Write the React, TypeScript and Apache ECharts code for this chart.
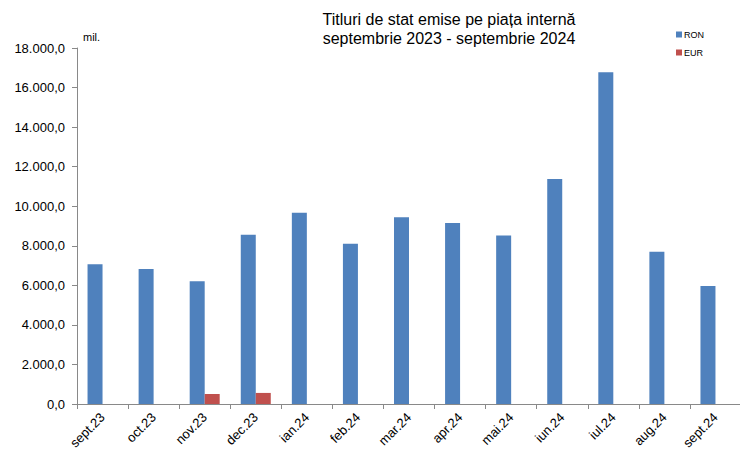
import React, { useEffect, useRef } from "react";
import * as echarts from "echarts";

const categories = ["sept.23", "oct.23", "nov.23", "dec.23", "ian.24", "feb.24", "mar.24", "apr.24", "mai.24", "iun.24", "iul.24", "aug.24", "sept.24"];
const ronValues = [7070, 6820, 6210, 8560, 9670, 8100, 9440, 9150, 8520, 11380, 16770, 7700, 5960];
const eurValues = [null, null, 505, 560, null, null, null, null, null, null, null, null, null];
const titleLines = ["Titluri de stat emise pe piața internă", "septembrie 2023 - septembrie 2024"];
const unitLabel = "mil.";

const FONT = "'Liberation Sans', Arial, sans-serif";

function fmt(v: number): string {
  const fixed = v.toFixed(1);
  const [intPart, dec] = fixed.split(".");
  const withDots = intPart.replace(/\B(?=(\d{3})+(?!\d))/g, ".");
  return withDots + "," + dec;
}

export default function App() {
  const ref = useRef<HTMLDivElement>(null);
  useEffect(() => {
    if (!ref.current) return;
    const chart = echarts.init(ref.current, null, { renderer: "svg" });
    chart.setOption({
      animation: false,
      backgroundColor: "#ffffff",
      textStyle: { fontFamily: FONT },
      title: {
        text: titleLines.join("\n"),
        left: 444,
        top: 5,
        textAlign: "center",
        textStyle: { fontFamily: FONT, fontSize: 16, fontWeight: "normal", color: "#000", lineHeight: 19 },
      },
      legend: {
        orient: "vertical",
        left: 671,
        top: 25,
        itemWidth: 6,
        itemHeight: 6,
        itemGap: 9,
        icon: "rect",
        textStyle: { fontFamily: FONT, fontSize: 9, color: "#000", padding: [0, 0, 0, -3] },
        data: ["RON", "EUR"],
      },
      graphic: [
        { type: "text", left: 83, top: 31, style: { text: unitLabel, fontFamily: FONT, fontSize: 11, fill: "#000" } },
      ],
      grid: { left: 77, top: 48, width: 664, height: 356, containLabel: false, outerBoundsMode: "none" },
      xAxis: {
        type: "category",
        data: categories,
        axisLine: { show: true, lineStyle: { color: "#898989", width: 1 } },
        axisTick: { show: true, length: 5, lineStyle: { color: "#898989" } },
        axisLabel: { rotate: 45, fontSize: 13, color: "#000", fontFamily: FONT, margin: 11, interval: 0 },
      },
      yAxis: {
        type: "value",
        min: 0,
        max: 18000,
        interval: 2000,
        axisLine: { show: true, lineStyle: { color: "#898989", width: 1 } },
        axisTick: { show: true, length: 5, lineStyle: { color: "#898989" } },
        splitLine: { show: false },
        axisLabel: { fontSize: 13, color: "#000", fontFamily: FONT, margin: 12, formatter: (v: number) => fmt(v) },
      },
      series: [
        { name: "RON", type: "bar", data: ronValues, barWidth: 15, barGap: "0%", itemStyle: { color: "#4F81BD" } },
        { name: "EUR", type: "bar", data: eurValues, barWidth: 15, barGap: "0%", itemStyle: { color: "#C0504D" } },
      ],
    });
    return () => chart.dispose();
  }, []);
  return <div ref={ref} style={{ position: "fixed", left: 0, top: 0, width: 740, height: 450 }} />;
}
